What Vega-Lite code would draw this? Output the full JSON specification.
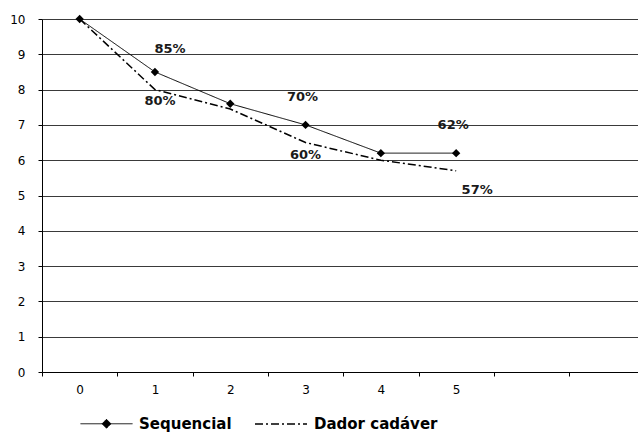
{
  "$schema": "https://vega.github.io/schema/vega-lite/v6.json",
  "width": 596,
  "height": 353,
  "autosize": "none",
  "padding": {"left": 42, "top": 19, "right": 0, "bottom": 63},
  "background": "white",
  "config": {
    "view": {"stroke": null},
    "font": "DejaVu Sans",
    "axis": {"labelFont": "DejaVu Sans", "labelColor": "black", "domainColor": "black", "tickColor": "black", "title": null}
  },
  "datasets": {
    "curves": [
      {"t": 0, "v": 10, "serie": "Sequencial"},
      {"t": 1, "v": 8.5, "serie": "Sequencial"},
      {"t": 2, "v": 7.6, "serie": "Sequencial"},
      {"t": 3, "v": 7.0, "serie": "Sequencial"},
      {"t": 4, "v": 6.2, "serie": "Sequencial"},
      {"t": 5, "v": 6.2, "serie": "Sequencial"},
      {"t": 0, "v": 10, "serie": "Dador cadáver"},
      {"t": 1, "v": 8.0, "serie": "Dador cadáver"},
      {"t": 2, "v": 7.45, "serie": "Dador cadáver"},
      {"t": 3, "v": 6.5, "serie": "Dador cadáver"},
      {"t": 4, "v": 6.0, "serie": "Dador cadáver"},
      {"t": 5, "v": 5.7, "serie": "Dador cadáver"}
    ],
    "pct": [
      {"label": "85%", "t": 1, "v": 8.5},
      {"label": "80%", "t": 1, "v": 8.0},
      {"label": "70%", "t": 3, "v": 7.0},
      {"label": "60%", "t": 3, "v": 6.0},
      {"label": "62%", "t": 5, "v": 6.2},
      {"label": "57%", "t": 5, "v": 5.7}
    ]
  },
  "encoding": {
    "x": {
      "field": "t", "type": "quantitative",
      "scale": {"domain": [-0.5, 7.415], "nice": false, "zero": false},
      "axis": {
        "values": [-0.5, 0.5, 1.5, 2.5, 3.5, 4.5, 5.5, 6.5],
        "grid": false,
        "tickSize": 4,
        "labelFontSize": 12,
        "labelPadding": 8,
        "labelOffset": 37.65,
        "labelOverlap": false,
        "labelFlush": false,
        "labelBound": false,
        "labelExpr": "datum.value < 5 ? format(datum.value + 0.5, 'd') : ''"
      }
    },
    "y": {
      "field": "v", "type": "quantitative",
      "scale": {"domain": [0, 10], "nice": false},
      "axis": {
        "values": [0, 1, 2, 3, 4, 5, 6, 7, 8, 9, 10],
        "grid": true,
        "gridColor": "#3a3a3a",
        "gridWidth": 1,
        "tickSize": 4,
        "labelFontSize": 12,
        "labelPadding": 13,
        "labelOverlap": false,
        "labelFlush": false
      }
    }
  },
  "layer": [
    {
      "data": {"name": "curves"},
      "mark": {"type": "line", "color": "black"},
      "encoding": {
        "strokeDash": {
          "field": "serie", "type": "nominal",
          "scale": {"domain": ["Sequencial", "Dador cadáver"], "range": [[1, 0], [8, 3, 2, 3]]},
          "legend": {
            "title": null,
            "orient": "none",
            "direction": "horizontal",
            "legendX": 38,
            "legendY": 378,
            "padding": 0,
            "symbolType": "stroke",
            "symbolSize": 2704,
            "symbolStrokeWidth": 1.2,
            "symbolStrokeColor": "black",
            "labelFont": "DejaVu Sans",
            "labelFontSize": 15,
            "labelFontWeight": "bold",
            "labelColor": "black",
            "labelOffset": 6,
            "columnPadding": 20,
            "encode": {
              "symbols": {
                "update": {
                  "shape": {"signal": "datum.value === 'Sequencial' ? 'M-1,0H1M0,-0.17L0.17,0L0,0.17L-0.17,0Z' : 'stroke'"},
                  "fill": {"value": "black"},
                  "stroke": {"value": "black"},
                  "strokeWidth": {"value": 1.2},
                  "strokeDash": {"signal": "datum.value === 'Sequencial' ? [1, 0] : [8, 3, 2, 3]"},
                  "opacity": {"value": 1}
                }
              }
            }
          }
        },
        "strokeWidth": {
          "field": "serie", "type": "nominal",
          "scale": {"domain": ["Sequencial", "Dador cadáver"], "range": [1, 1.5]},
          "legend": null
        }
      }
    },
    {
      "data": {"name": "curves"},
      "transform": [{"filter": "datum.serie === 'Sequencial'"}],
      "mark": {"type": "point", "shape": "diamond", "filled": true, "color": "black", "size": 70, "opacity": 1}
    },
    {
      "data": {"name": "pct"},
      "transform": [{"filter": "datum.label === '85%'"}],
      "mark": {"type": "text", "font": "DejaVu Sans", "fontSize": 13, "fontWeight": "bold", "color": "#1a1a1a", "dx": 15, "dy": -23},
      "encoding": {"text": {"field": "label"}}
    },
    {
      "data": {"name": "pct"},
      "transform": [{"filter": "datum.label === '80%'"}],
      "mark": {"type": "text", "font": "DejaVu Sans", "fontSize": 13, "fontWeight": "bold", "color": "#1a1a1a", "dx": 5, "dy": 11},
      "encoding": {"text": {"field": "label"}}
    },
    {
      "data": {"name": "pct"},
      "transform": [{"filter": "datum.label === '70%' || datum.label === '62%'"}],
      "mark": {"type": "text", "font": "DejaVu Sans", "fontSize": 13, "fontWeight": "bold", "color": "#1a1a1a", "dx": -3, "dy": -28},
      "encoding": {"text": {"field": "label"}}
    },
    {
      "data": {"name": "pct"},
      "transform": [{"filter": "datum.label === '60%'"}],
      "mark": {"type": "text", "font": "DejaVu Sans", "fontSize": 13, "fontWeight": "bold", "color": "#1a1a1a", "dx": 0, "dy": -5},
      "encoding": {"text": {"field": "label"}}
    },
    {
      "data": {"name": "pct"},
      "transform": [{"filter": "datum.label === '57%'"}],
      "mark": {"type": "text", "font": "DejaVu Sans", "fontSize": 13, "fontWeight": "bold", "color": "#1a1a1a", "dx": 21, "dy": 19},
      "encoding": {"text": {"field": "label"}}
    }
  ]
}
